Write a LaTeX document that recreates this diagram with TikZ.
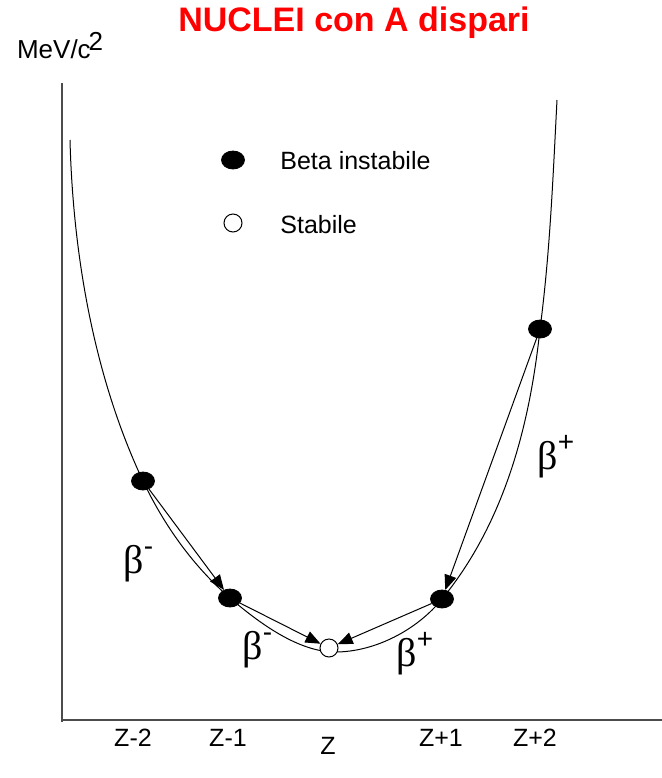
\documentclass[tikz,border=0pt]{standalone}
\usepackage{fontspec}
\setmainfont{Liberation Sans}
\newfontfamily\greekfont{Liberation Serif}
\usetikzlibrary{shapes.geometric,arrows.meta}
\newcommand{\betalabel}[1]{{\greekfont\fontsize{20}{20}\selectfont β}\raisebox{9pt}{\fontsize{14}{14}\selectfont #1}}

\begin{document}
\begin{tikzpicture}[x=0.5pt, y=-0.5pt,
    unstable/.style={ellipse, fill=black, draw=black, minimum width=11.5pt, minimum height=9pt, inner sep=0pt},
    stable/.style={circle, fill=white, draw=black, line width=0.5pt, minimum size=9pt, inner sep=0pt},
    decay/.style={line width=0.5pt, -{Triangle[length=7.5pt,width=6pt]}},
    ticklabel/.style={font=\fontsize{12.5}{12.5}\selectfont}]
    \useasboundingbox (0,0) rectangle (662,778);

    % Title and units
    \node[red, font=\fontsize{17}{17}\selectfont\bfseries] (title) at (354,23) {NUCLEI con A dispari};
    \node[anchor=base west, font=\fontsize{13}{13}\selectfont] (units) at (10,58) {MeV/c\kern-1pt\raisebox{4pt}{2}};

    % Axes
    \draw[black!70, line width=0.75pt] (62,83) -- (62,722);
    \draw[black!70, line width=0.75pt] (62,720) -- (662,720);

    % Mass parabola
    \draw[line width=0.5pt] (70,140) .. controls (73,255) and (94,377) .. (143,481)
        .. controls (164,525) and (193,566) .. (230,598)
        .. controls (258,622) and (298,652) .. (335,652)
        .. controls (375,652) and (417,630) .. (442,599)
        .. controls (505,522) and (530,424) .. (540,329)
        .. controls (550,253) and (553,177) .. (557,100);

    % Isobars
    \node[unstable] (zm2) at (143,481) {};
    \node[unstable] (zm1) at (230,598) {};
    \node[stable] (z0) at (329,648) {};
    \node[unstable] (zp1) at (442,599) {};
    \node[unstable] (zp2) at (540,329) {};

    % Decays
    \draw[decay] (zm2) -- (zm1);
    \draw[decay] (zm1) -- (z0);
    \draw[decay] (zp1) -- (z0);
    \draw[decay] (zp2) -- (zp1);
    \node[anchor=base west, inner sep=0pt] (bm1) at (123,573) {\betalabel{-}};
    \node[anchor=base west, inner sep=0pt] (bm2) at (242,659) {\betalabel{-}};
    \node[anchor=base west, inner sep=0pt] (bp1) at (396,666) {\betalabel{+}};
    \node[anchor=base west, inner sep=0pt] (bp2) at (537,469) {\betalabel{+}};

    % Legend
    \node[unstable] (keyunstable) at (233,160) {};
    \node[anchor=west, inner sep=0pt, font=\fontsize{12.5}{12.5}\selectfont] (keyunstabletext) at (280,161) {Beta instabile};
    \node[stable] (keystable) at (233,223) {};
    \node[anchor=west, inner sep=0pt, font=\fontsize{12.5}{12.5}\selectfont] (keystabletext) at (280,225) {Stabile};

    % Z values
    \node[ticklabel] (tzm2) at (133,738) {Z-2};
    \node[ticklabel] (tzm1) at (228,738) {Z-1};
    \node[ticklabel] (tz0) at (328,746) {Z};
    \node[ticklabel] (tzp1) at (441,738) {Z+1};
    \node[ticklabel] (tzp2) at (535,738) {Z+2};
\end{tikzpicture}
\end{document}
